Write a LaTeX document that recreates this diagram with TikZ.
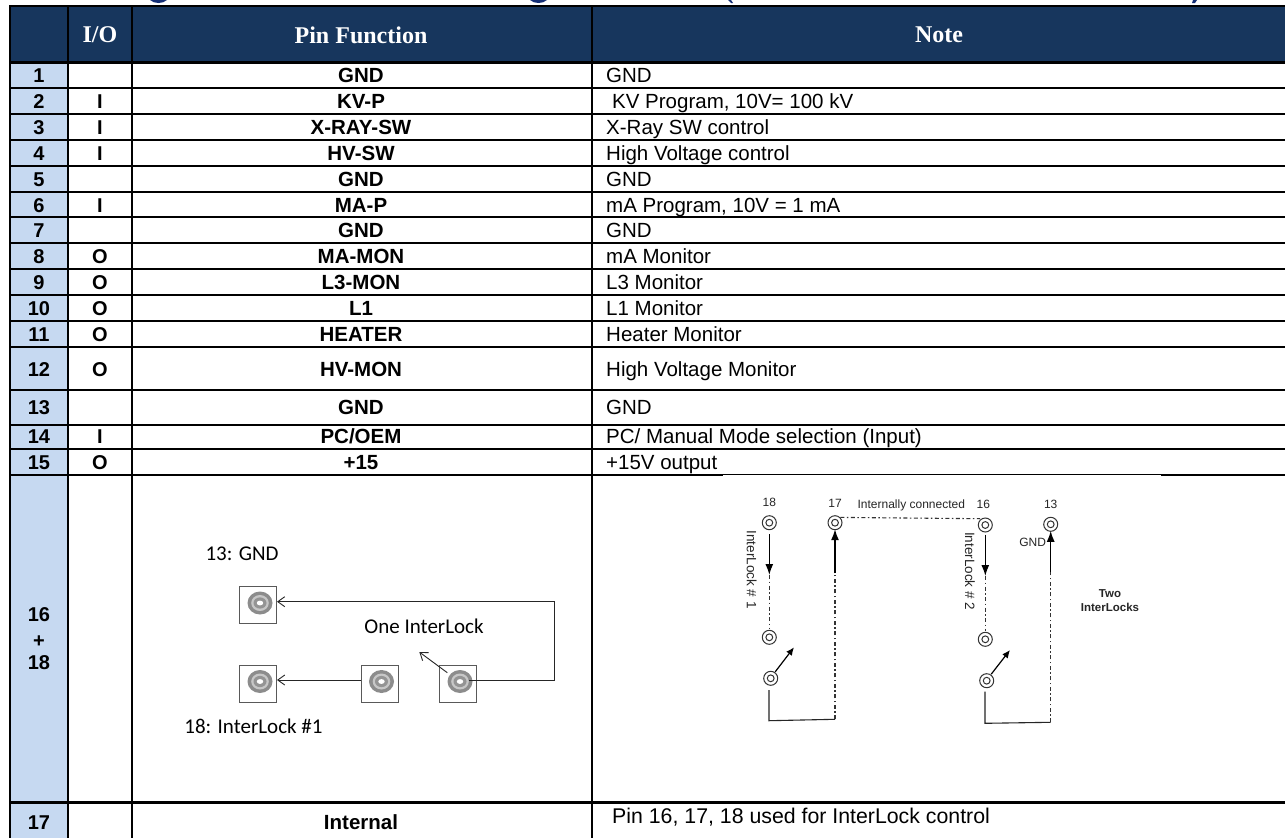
\documentclass[tikz,border=0pt]{standalone}
\usepackage{fontspec}
\setmainfont{Liberation Sans}
\newfontfamily\serifhead{Liberation Serif}
\newfontfamily\calib{Carlito}
\usetikzlibrary{arrows.meta,calc}
\definecolor{headblue}{RGB}{23,54,93}
\definecolor{numblue}{RGB}{198,217,241}
\tikzset{
  grid/.style={line width=2.2pt,black},
  thickgrid/.style={line width=3pt,black},
  headtext/.style={text=white,font=\serifhead\bfseries\fontsize{24}{26}\selectfont,anchor=center,inner sep=0pt},
  numtext/.style={font=\bfseries\fontsize{20}{22}\selectfont,anchor=base,inner sep=0pt},
  pintext/.style={font=\bfseries\fontsize{20.5}{22}\selectfont,anchor=base,inner sep=0pt},
  notetext/.style={font=\fontsize{20.5}{22}\selectfont,anchor=base west,inner sep=0pt},
  caltext/.style={font=\calib\fontsize{21}{23}\selectfont,anchor=center,inner sep=0pt},
  boxpin/.style={draw=black!65,line width=1pt,rectangle,minimum size=37pt,inner sep=0pt,fill=white},
  ringpin/.style={draw=black!80,line width=1pt,circle,minimum size=14pt,inner sep=0pt,fill=white},
  thinwire/.style={line width=0.9pt,black!85},
  openarrow/.style={-{Straight Barb[length=7pt,width=10pt]}},
  solidwire/.style={line width=1.1pt,black!85},
  fatarrow/.style={line width=1.4pt,black,-{Latex[length=11pt,width=8pt]}},
  dashwire/.style={line width=1.1pt,black!80,dash pattern=on 4pt off 2.5pt on 1.5pt off 2.5pt},
  smalltext/.style={font=\fontsize{12}{14}\selectfont,anchor=center,inner sep=0pt,text=black!85},
  sidetext/.style={font=\fontsize{13.5}{15}\selectfont,anchor=center,inner sep=0pt,text=black!85,rotate=-90},
  titleink/.style={fill=headblue!85!blue},
}
% row: number, y centre, I/O, pin function, note, note x
\newcommand{\tablerow}[6]{%
  \node[numtext] (num#1) at (39,#2+7.5) {#1};
  \node[numtext] (io#1) at (100,#2+7.5) {#3};
  \node[pintext] (pf#1) at (361,#2+7.5) {#4};
  \node[notetext] (note#1) at (#6,#2+7.5) {#5};
}
\newcommand{\boxpinat}[3]{%
  \node[boxpin] (#1) at (#2,#3) {};
  \fill[black!45] ($(#1)+(2,-2)$) ellipse [x radius=12.5,y radius=11.5];
  \fill[black!22] ($(#1)+(2,-2)$) ellipse [x radius=8.8,y radius=8];
  \fill[black!42] ($(#1)+(2,-2)$) ellipse [x radius=6.5,y radius=5.6];
  \fill[white] ($(#1)+(2,-2)$) ellipse [x radius=3.2,y radius=2.4];
}
\newcommand{\ringat}[3]{%
  \node[ringpin] (#1) at (#2,#3) {};
  \draw[black!80,line width=1pt] (#1.center) circle [radius=3.4];
}
\begin{document}
\begin{tikzpicture}[x=1pt,y=-1pt]
\useasboundingbox (0,0) rectangle (1285,838);
\fill[white] (0,0) rectangle (1285,838);
% cropped title descenders
\fill[titleink] (150,0) .. controls (154,4) and (163,4) .. (167,0) -- cycle;
\fill[titleink] (530,0) .. controls (534,4) and (543,4) .. (547,0) -- cycle;
\fill[titleink] (728,0) -- (731,0) -- (733,3) -- (731,3) -- cycle;
\fill[titleink] (1193,0) -- (1197,0) -- (1195,3) -- (1192,3) -- cycle;
% cell fills
\fill[headblue] (10,6) rectangle (1285,62);
\fill[numblue] (10,62) rectangle (68,838);
% grid
\foreach \yy in {88,114,140,166,192,217,243,269,295,321,347,390,425,449}
  \draw[grid] (10,\yy) -- (1285,\yy);
\draw[grid] (9,6) -- (1285,6);
\draw[thickgrid] (9,62) -- (1285,62);
\draw[grid] (10,475) -- (723,475);
\draw[line width=1pt] (723,474.2) -- (1161,474.2);
\draw[grid] (1161,475) -- (1285,475);
\draw[thickgrid] (10,802) -- (1285,802);
\foreach \xx in {10,68,132,592}
  \draw[grid] (\xx,6) -- (\xx,838);
% header
\node[headtext] (hio) at (100,35) {I/O};
\node[headtext] (hpin) at (361,35) {Pin Function};
\node[headtext] (hnote) at (939,35) {Note};
% rows
\tablerow{1}{75}{}{GND}{GND}{606}
\tablerow{2}{101}{I}{KV-P}{KV Program, 10V= 100 kV}{612}
\tablerow{3}{127}{I}{X-RAY-SW}{X-Ray SW control}{606}
\tablerow{4}{153}{I}{HV-SW}{High Voltage control}{606}
\tablerow{5}{179}{}{GND}{GND}{606}
\tablerow{6}{205}{I}{MA-P}{mA Program, 10V = 1 mA}{606}
\tablerow{7}{230}{}{GND}{GND}{606}
\tablerow{8}{256}{O}{MA-MON}{mA Monitor}{606}
\tablerow{9}{282}{O}{L3-MON}{L3 Monitor}{606}
\tablerow{10}{308}{O}{L1}{L1 Monitor}{606}
\tablerow{11}{334}{O}{HEATER}{Heater Monitor}{606}
\tablerow{12}{369}{O}{HV-MON}{High Voltage Monitor}{606}
\tablerow{13}{407}{}{GND}{GND}{606}
\tablerow{14}{436}{I}{PC/OEM}{PC/ Manual Mode selection (Input)}{606}
\tablerow{15}{462}{O}{+15}{+15V output}{606}
\node[numtext] (num16) at (39,621) {16};
\node[numtext] (numplus) at (39,647) {+};
\node[numtext] (num18) at (39,669) {18};
\tablerow{17}{822}{}{Internal}{}{612}
\node[notetext,font=\fontsize{21.3}{23}\selectfont] (note17b) at (612,823) {Pin 16, 17, 18 used for InterLock control};
% left schematic
\node[caltext] (lgnd) at (242,554) {13: GND};
\node[caltext] (lone) at (424,626) {One InterLock};
\node[caltext] (lil) at (253.5,726) {18: InterLock \#1};
\boxpinat{bgnd}{258}{605}
\boxpinat{bil}{258}{683.5}
\boxpinat{bmid}{379.5}{683.5}
\boxpinat{bsw}{458}{683.5}
\coordinate (bswport) at (469,680);
\coordinate (bcorner) at (554.7,640);
\coordinate (bmidport) at ($(bmid.west)+(0,-3.5)$);
\coordinate (bilport) at ($(bil.east)+(0,-3.5)$);
\coordinate (bgndport) at ($(bgnd.east)+(0,-3.3)$);
\coordinate (bswtip) at (419.3,652);
\coordinate (bswtail) at (447.3,672.7);
\draw[thinwire,openarrow] (bswport) -| (bcorner) |- (bgndport);
\draw[thinwire,openarrow] (bmidport) -- (bilport);
\draw[thinwire,openarrow] (bswtail) -- (bswtip);
% right schematic
\ringat{r18}{769.3}{522.7}
\ringat{r17}{835}{522.7}
\ringat{r16}{985.3}{525}
\ringat{r13}{1050.7}{524.3}
\ringat{r18b}{769.3}{637.3}
\ringat{r16b}{985.3}{639.3}
\ringat{s1}{770.7}{678.3}
\ringat{s2}{986.7}{680.7}
\node[smalltext] (t18) at (769.3,502.3) {18};
\node[smalltext] (t17) at (835,503.3) {17};
\node[smalltext] (tint) at (911.3,505) {Internally connected};
\node[smalltext] (t16) at (983.3,504.3) {16};
\node[smalltext] (t13) at (1050.7,504) {13};
\node[smalltext] (tgnd) at (1032.7,542.7) {GND};
\node[sidetext] (til1) at (751.7,569.5) {InterLock \# 1};
\node[sidetext] (til2) at (970,571.2) {InterLock \# 2};
\node[font=\bfseries\fontsize{11.5}{14}\selectfont,align=center,inner sep=0pt,text=black!85] (ttwo) at (1110,600.3) {Two\\InterLocks};
\coordinate (m18) at (769.3,575);
\coordinate (m17) at (835,573.3);
\coordinate (m16) at (985.3,576);
\coordinate (m13) at (1050.7,571.7);
\coordinate (a1) at (769,690);
\coordinate (a2) at (769,720.7);
\coordinate (a3) at (835,719.3);
\coordinate (b1) at (985,691.7);
\coordinate (b2) at (985,723.3);
\coordinate (b3) at (1050.7,722.3);
\draw[fatarrow] ($(r18.south)+(0,4)$) -- (m18);
\draw[dashwire] (m18) -- ($(r18b.north)+(0,-1)$);
\draw[fatarrow] (m17) -- ($(r17.south)-(0,1)$);
\draw[dashwire] (a3) -- (m17);
\draw[solidwire] (a1) -- (a2) -- (a3);
\draw[fatarrow] ($(r16.south)+(0,2)$) -- (m16);
\draw[dashwire] (m16) -- ($(r16b.north)+(0,-1)$);
\draw[fatarrow] (m13) -- ($(r13.south)-(0,1)$);
\draw[dashwire] (b3) -- (m13);
\draw[solidwire] (b1) -- (b2) -- (b3);
\draw[dashwire] (r17.north east) -- ($(r16.north west)+(0,-1)$);
\coordinate (sw1tip) at (794,647.3);
\coordinate (sw2tip) at (1010,650);
\draw[line width=1.2pt,black,-{Latex[length=8pt,width=7pt]}] (s1) ++(4.5,-6.5) -- (sw1tip);
\draw[line width=1.2pt,black,-{Latex[length=8pt,width=7pt]}] (s2) ++(4.5,-6.5) -- (sw2tip);
\end{tikzpicture}
\end{document}
